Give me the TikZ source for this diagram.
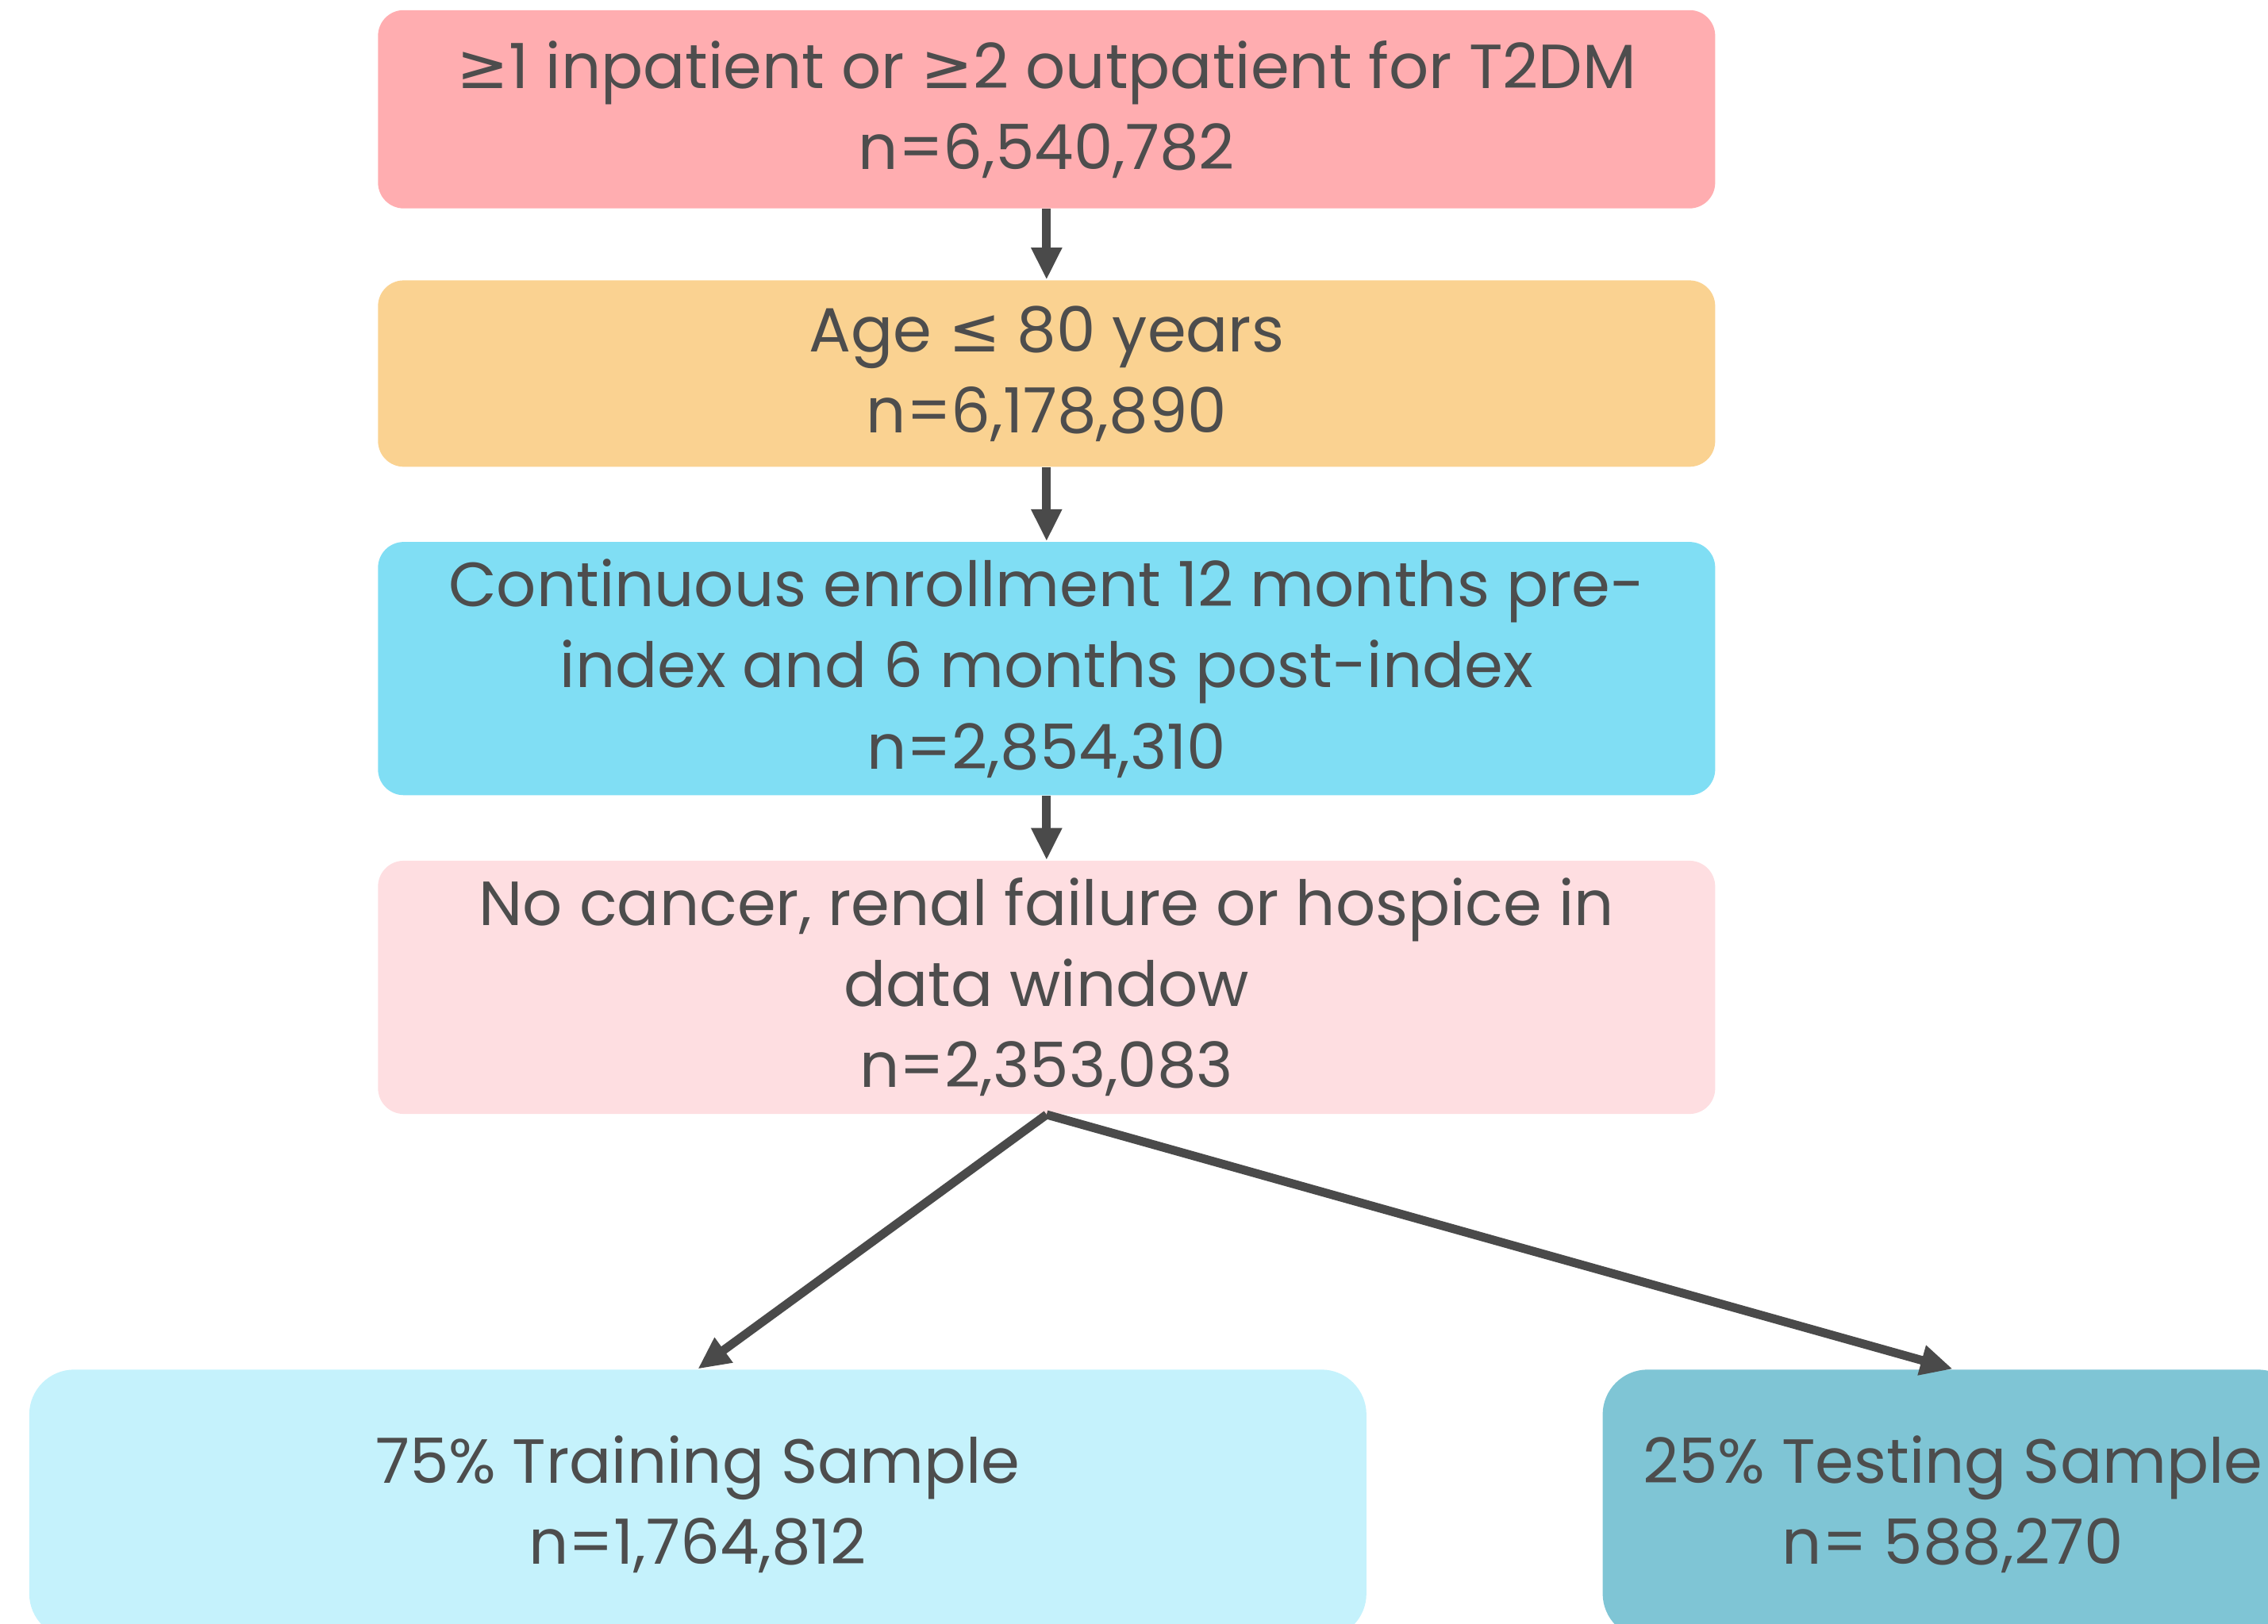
\documentclass[tikz,border=0pt]{standalone}
\usepackage{fontspec}
\setmainfont{Poppins}
\newfontfamily\symfont{DejaVu Sans}
\usetikzlibrary{positioning,arrows.meta}

\definecolor{txtgray}{HTML}{4D4D4D}
\definecolor{arrgray}{HTML}{4A4A4A}
\definecolor{stepone}{HTML}{FFADB0}
\definecolor{steptwo}{HTML}{FAD291}
\definecolor{stepthree}{HTML}{80DEF4}
\definecolor{stepfour}{HTML}{FEDEE1}
\definecolor{trainfill}{HTML}{C5F2FC}
\definecolor{testfill}{HTML}{7FC5D5}

\begin{document}
\begin{tikzpicture}[
  node distance=22pt, >={Triangle[length=10pt,width=9pt]},
  font=\fontsize{19.4}{25.2}\selectfont, text=txtgray,
  blk/.style={rectangle,rounded corners=8pt,minimum width=416pt,align=center,inner sep=0pt},
  flow/.style={->,line width=2.7pt,draw=arrgray}
]
\useasboundingbox (0,0) rectangle (705.6pt,-505.35pt);

% Cohort selection steps
\node[blk, fill=stepone, minimum height=61.7pt] (diag) at (325.6pt,-34pt)
      {{\symfont ≥}1 inpatient or {\symfont ≥}2 outpatient for T2DM\\n=6,540,782};
\node[blk, fill=steptwo, minimum height=58pt, below=22pt of diag] (age)
      {Age {\symfont ≤} 80 years\\n=6,178,890};
\node[blk, fill=stepthree, minimum height=78.8pt, below=23pt of age] (enroll)
      {Continuous enrollment 12 months pre-\\index and 6 months post-index\\n=2,854,310};
\node[blk, fill=stepfour, minimum height=78.8pt, below=20pt of enroll] (excl)
      {No cancer, renal failure or hospice in\\data window\\n=2,353,083};

% Train / test split
\node[blk, fill=trainfill, rounded corners=14pt, minimum height=83.7pt, anchor=north]
      (train) at (217.1pt,-426pt) {75\% Training Sample\\n=1,764,812};
\node[blk, fill=testfill, rounded corners=14pt, minimum width=217.8pt, minimum height=83.7pt, anchor=north]
      (test) at (607.5pt,-426pt) {25\% Testing Sample\\n= 588,270};

% Connections
\draw[flow] (diag) -- (age);
\draw[flow] (age) -- (enroll);
\draw[flow] (enroll) -- (excl);
\draw[flow] (excl.south) -- (train.north);
\draw[flow] (excl.south) -- (test.north);
\end{tikzpicture}
\end{document}
